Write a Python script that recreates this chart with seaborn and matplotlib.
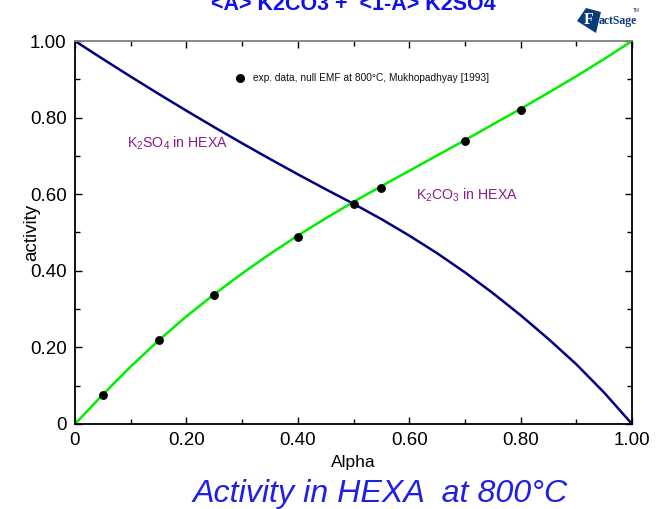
import numpy as np
import pandas as pd
import matplotlib
matplotlib.use("Agg")
import matplotlib.pyplot as plt
from matplotlib.patches import Polygon
from matplotlib.ticker import MultipleLocator, FuncFormatter
import seaborn as sns

# Computed activities (FactSage HEXA solution), read at alpha steps of 0.05
alpha = [0.00, 0.05, 0.10, 0.15, 0.20, 0.25, 0.30, 0.35, 0.40, 0.45, 0.50,
         0.55, 0.60, 0.65, 0.70, 0.75, 0.80, 0.85, 0.90, 0.95, 1.00]
a_k2co3 = [0.000, 0.077, 0.150, 0.218, 0.281, 0.339, 0.393, 0.444, 0.492, 0.537, 0.580,
           0.621, 0.661, 0.701, 0.741, 0.782, 0.823, 0.865, 0.908, 0.953, 1.000]
a_k2so4 = [1.000, 0.953, 0.907, 0.862, 0.818, 0.775, 0.733, 0.692, 0.652, 0.613, 0.575,
           0.535, 0.492, 0.446, 0.396, 0.342, 0.284, 0.222, 0.156, 0.082, 0.000]

# Experimental K2CO3 activities (null EMF, 800 C)
exp_alpha = [0.05, 0.15, 0.25, 0.40, 0.50, 0.55, 0.70, 0.80]
exp_act = [0.076, 0.219, 0.337, 0.488, 0.574, 0.616, 0.739, 0.820]

ticks = [0.0, 0.2, 0.4, 0.6, 0.8, 1.0]

sns.set_style("ticks")
plt.rcParams["font.family"] = ["Liberation Sans", "DejaVu Sans"]
plt.rcParams["mathtext.fontset"] = "custom"
plt.rcParams["mathtext.rm"] = "Liberation Sans"
plt.rcParams["mathtext.it"] = "Liberation Sans:italic"
plt.rcParams["mathtext.bf"] = "Liberation Sans:bold"
plt.rcParams["text.color"] = "black"
plt.rcParams["axes.labelcolor"] = "black"
plt.rcParams["xtick.color"] = "black"
plt.rcParams["ytick.color"] = "black"

W, H = 663, 509
fig = plt.figure(figsize=(W / 100, H / 100), dpi=100)
ax = fig.add_axes([75 / W, 1 - 424 / H, (632 - 75) / W, (424 - 41) / H])

curves = pd.DataFrame({"alpha": alpha, "K2CO3": a_k2co3, "K2SO4": a_k2so4})
sns.lineplot(data=curves, x="alpha", y="K2SO4", ax=ax, color="#000080", lw=1.8)
sns.lineplot(data=curves, x="alpha", y="K2CO3", ax=ax, color="#00EE00", lw=1.8)
exp = pd.DataFrame({"alpha": exp_alpha, "act": exp_act})
sns.scatterplot(data=exp, x="alpha", y="act", ax=ax, color="black", s=34,
                edgecolor="black", linewidth=0.5, zorder=5)

ax.set_xlim(0, 1)
ax.set_ylim(0, 1)
fmt = FuncFormatter(lambda v, p: "0" if abs(v) < 1e-9 else f"{v:.2f}")
ax.set_xticks(ticks)
ax.set_yticks(ticks)
ax.xaxis.set_major_formatter(fmt)
ax.yaxis.set_major_formatter(fmt)
ax.xaxis.set_minor_locator(MultipleLocator(0.1))
ax.yaxis.set_minor_locator(MultipleLocator(0.1))
ax.tick_params(which="both", direction="in", top=True, right=True, width=1,
               color="black", labelcolor="black")
ax.tick_params(which="major", length=5, labelsize=13.5, pad=6)
ax.tick_params(which="minor", length=3.5)
for s in ("left", "bottom", "right"):
    ax.spines[s].set_color("black")
    ax.spines[s].set_linewidth(1.3)
ax.spines["top"].set_color("#808080")
ax.spines["top"].set_linewidth(1.3)

ax.set_xlabel("Alpha", fontsize=12.5, labelpad=4, color="black")
ax.set_ylabel("activity", fontsize=13.5, color="black")
ax.yaxis.set_label_coords((32 - 75) / 557, 0.50)
ax.yaxis.label.set_va("center")

purple = "#8B1A8B"
ax.text(0.094, 0.733, r"K$_2$SO$_4$ in HEXA", color=purple, fontsize=10.2, va="center")
ax.text(0.613, 0.597, r"K$_2$CO$_3$ in HEXA", color=purple, fontsize=10.2, va="center")

# legend entry for the experimental points
ax.scatter([0.296], [0.903], s=30, color="black", zorder=5, clip_on=False)
ax.text(0.319, 0.903, "exp. data, null EMF at 800\u00b0C, Mukhopadhyay [1993]",
        fontsize=7.3, va="center", color="#111111")

# header and caption
fig.text(353 / W, 1 - 10 / H, "<A> K2CO3 +  <1-A> K2SO4", color="#1010E8",
         fontsize=15.5, fontweight="bold", ha="center", va="baseline")
fig.text(380 / W, 1 - 494 / H, "Activity in HEXA  at 800\u00b0C", color="#1f1fe6",
         fontsize=23.2, fontstyle="italic", ha="center", va="center")

# FactSage badge
badge = Polygon([(577 / W, 1 - 21 / H), (586 / W, 1 - 8 / H), (601 / W, 1 - 12 / H),
                 (596 / W, 1 - 33 / H)], closed=True, transform=fig.transFigure,
                facecolor="#0B3B78", edgecolor="none")
fig.patches.append(badge)
fig.text(589 / W, 1 - 20 / H, "F", color="white", fontsize=11.5, fontweight="bold",
         ha="center", va="center", family="Liberation Serif")
fig.text(599 / W, 1 - 21 / H, "actSage", color="#0B3B78", fontsize=8.5, fontweight="bold",
         ha="left", va="center", family="Liberation Serif")
fig.text(633 / W, 1 - 10 / H, "TM", color="#0B3B78", fontsize=3.5, ha="left", va="center")

fig.savefig("out.png", dpi=100, facecolor="white")
